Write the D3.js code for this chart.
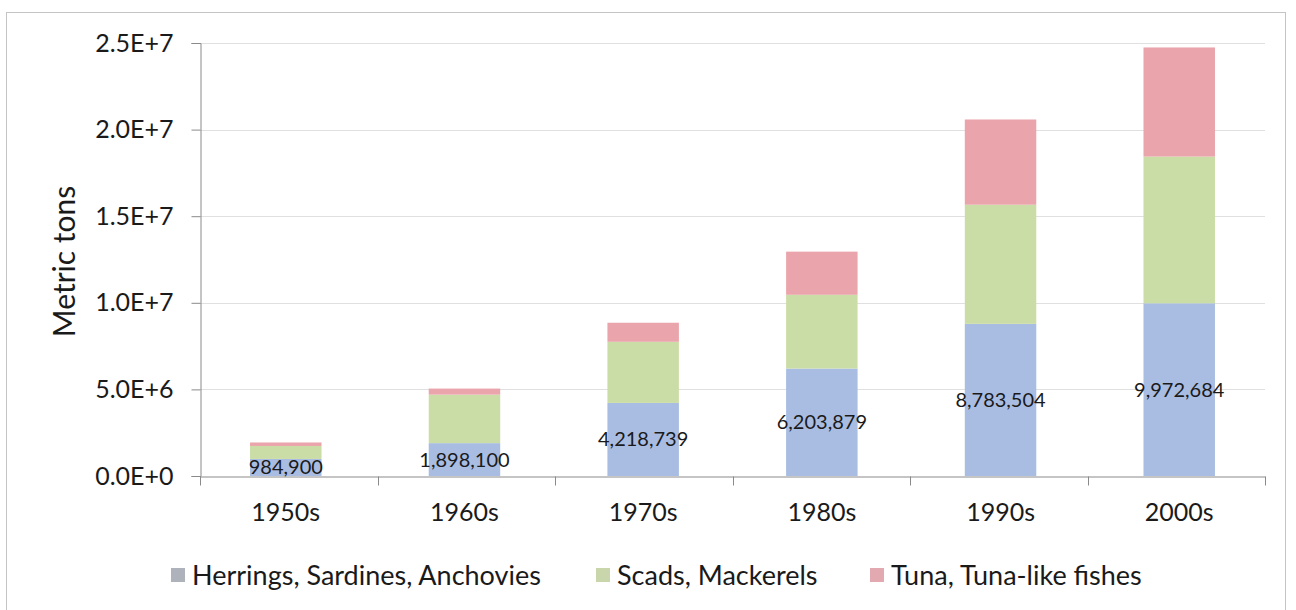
<!DOCTYPE html>
<html>
<head>
<meta charset="utf-8">
<script src="https://cdn.jsdelivr.net/npm/d3@7"></script>
<style>
  body { margin: 0; background: #fff; }
  text { font-family: Lato, "Open Sans", sans-serif; fill: #1a1a1a; }
</style>
</head>
<body>
<div></div>
<script>
const width = 1296;
const height = 610;

const decades = ['1950s', '1960s', '1970s', '1980s', '1990s', '2000s'];
const herrings = [984900, 1898100, 4218739, 6203879, 8783504, 9972684];
const scads = [750000, 2800000, 3530000, 4260000, 6880000, 8470000];
const tuna = [200000, 350000, 1100000, 2490000, 4920000, 6300000];
const seriesNames = ['Herrings, Sardines, Anchovies', 'Scads, Mackerels', 'Tuna, Tuna-like fishes'];
const seriesColors = ['#a9bde3', '#cbdda6', '#eaa4ab'];
const legendColors = ['#aeb2ba', '#c9d6ab', '#e2a9b1'];
const yTicks = [0, 5e6, 1e7, 1.5e7, 2e7, 2.5e7];
const yTickLabels = ['0.0E+0', '5.0E+6', '1.0E+7', '1.5E+7', '2.0E+7', '2.5E+7'];

const svg = d3.select('div').append('svg').attr('width', width).attr('height', height);

// chart frame
svg.append('rect')
    .attr('x', 6.5).attr('y', 12.5)
    .attr('width', 1279).attr('height', 610)
    .attr('fill', 'none').attr('stroke', '#c4c4c4');

const plotLeft = 200, plotRight = 1265, plotTop = 43, plotBottom = 476;

const x = d3.scaleBand().domain(decades).range([plotLeft, plotRight]).paddingInner(0.6).paddingOuter(0.28);
const y = d3.scaleLinear().domain([0, 2.5e7]).range([plotBottom, plotTop]);

const table = decades.map((d, i) => ({decade: d, h: herrings[i], s: scads[i], t: tuna[i]}));
const stack = d3.stack().keys(['h', 's', 't']);
const layers = stack(table);

// gridlines
svg.append('g').selectAll('line').data(yTicks.slice(1)).enter().append('line')
    .attr('x1', plotLeft).attr('x2', plotRight)
    .attr('y1', d => Math.round(y(d)) + 0.5).attr('y2', d => Math.round(y(d)) + 0.5)
    .attr('stroke', '#e0e0e0');

// bars
svg.append('g').selectAll('g').data(layers).enter().append('g')
    .attr('fill', (d, i) => seriesColors[i])
    .selectAll('rect').data(d => d).enter().append('rect')
    .attr('x', d => x(d.data.decade))
    .attr('width', x.bandwidth())
    .attr('y', d => y(d[1]))
    .attr('height', d => y(d[0]) - y(d[1]));

// y axis
const yAxis = svg.append('g').attr('transform', 'translate(' + (plotLeft + 0.5) + ',0)')
    .call(d3.axisLeft(y).tickValues(yTicks).tickFormat((d, i) => yTickLabels[i]).tickSize(9).tickPadding(18));
yAxis.select('.domain').attr('stroke', '#8a8a8a');
yAxis.selectAll('.tick line').attr('stroke', '#8a8a8a');
yAxis.selectAll('.tick text').attr('font-size', 25).attr('fill', '#1a1a1a').attr('font-family', 'Lato');

// x axis
const xAxis = svg.append('g').attr('transform', 'translate(0,' + (plotBottom + 0.5) + ')')
    .call(d3.axisBottom(x).tickSize(0).tickPadding(27));
xAxis.select('.domain').attr('stroke', '#8a8a8a');
xAxis.selectAll('.tick text').attr('font-size', 25).attr('fill', '#1a1a1a').attr('font-family', 'Lato');
xAxis.selectAll('.sep').data(d3.range(decades.length + 1)).enter().append('line')
    .attr('class', 'sep')
    .attr('x1', i => Math.round(plotLeft + i * (plotRight - plotLeft) / decades.length) + 0.5)
    .attr('x2', i => Math.round(plotLeft + i * (plotRight - plotLeft) / decades.length) + 0.5)
    .attr('y1', 0).attr('y2', 9)
    .attr('stroke', '#8a8a8a');

// y label
svg.append('text')
    .attr('transform', 'translate(75,' + ((plotTop + plotBottom) / 2 + 2) + ') rotate(-90)')
    .attr('text-anchor', 'middle')
    .attr('font-size', 30)
    .text('Metric tons');

// data labels (herrings)
svg.append('g').selectAll('text').data(layers[0]).enter().append('text')
    .attr('x', d => x(d.data.decade) + x.bandwidth() / 2)
    .attr('y', d => (y(d[0]) + y(d[1])) / 2)
    .attr('dy', '0.35em')
    .attr('text-anchor', 'middle')
    .attr('font-size', 20)
    .text(d => d3.format(',')(d.data.h));

// legend
const legendX = [171, 596, 870];
const legend = svg.append('g').selectAll('g').data(seriesNames).enter().append('g')
    .attr('transform', (d, i) => 'translate(' + legendX[i] + ',575)');
legend.append('rect')
    .attr('x', 0).attr('y', -7).attr('width', 14).attr('height', 14)
    .attr('fill', (d, i) => legendColors[i]);
legend.append('text')
    .attr('x', 21).attr('dy', '0.36em')
    .attr('font-size', 27)
    .text(d => d);
</script>
</body>
</html>
